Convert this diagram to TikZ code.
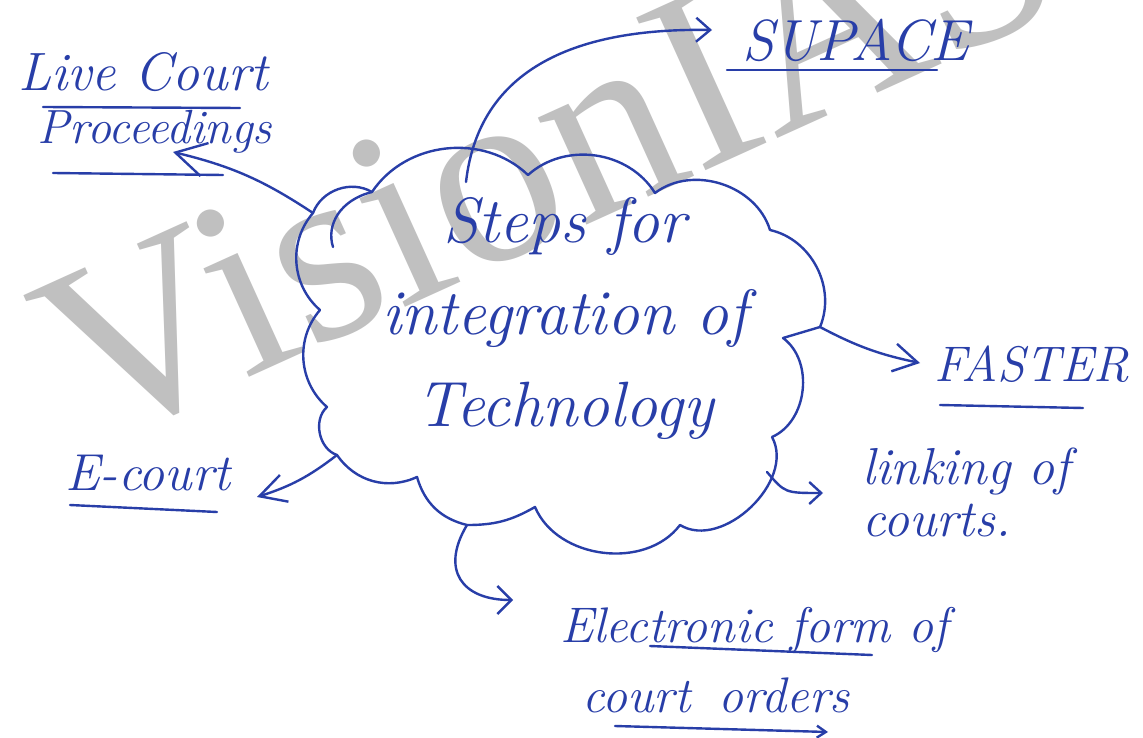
\documentclass[tikz,border=0pt]{standalone}
\usepackage{fontspec}
\newfontfamily\wmfont{Liberation Serif}
\usetikzlibrary{arrows.meta}
\definecolor{ink}{RGB}{40,62,168}
\definecolor{wm}{RGB}{192,192,192}
\begin{document}
\begin{tikzpicture}[x=1pt,y=-1pt,
  line cap=round, line join=round,
  inkline/.style={draw=ink, line width=2.4pt},
  conn/.style={inkline},
  lbl/.style={text=ink, font=\itshape, inner sep=0pt, align=center},
  cloudtext/.style={text=ink, font=\itshape\fontsize{64}{92}\selectfont, align=center, inner sep=0pt},
]
\useasboundingbox (0,0) rectangle (1143,738);
\fill[white] (0,0) rectangle (1143,738);

% watermark (under the ink)
\node[text=wm, font=\wmfont\fontsize{256}{256}\selectfont, inner sep=0pt, anchor=base west, rotate=24.4] (wmark) at (90,450) {VisionIAS};

% cloud cusps
\coordinate (c1) at (313,213);
\coordinate (c2) at (372,192);
\coordinate (c3) at (528,175);
\coordinate (c4) at (655,193);
\coordinate (c5) at (770,230);
\coordinate (c6) at (820,327);
\coordinate (c6b) at (783,338);
\coordinate (c7) at (772,437);
\coordinate (c9) at (680,525);
\coordinate (c10) at (535,507);
\coordinate (c11) at (467,525);
\coordinate (c12) at (417,477);
\coordinate (c13) at (337,455);
\coordinate (c14) at (327,407);
\coordinate (c15) at (320,310);

\draw[inkline] (c1) to[bend left=50] (c2) to[bend left=50] (c3)
  to[bend left=50] (c4) to[bend left=55] (c5) to[bend left=50] (c6)
  -- (c6b) to[bend left=60] (c7)
  to[bend left=75] (c9) to[bend left=60] (c10)
  to[bend left=15] (c11) to[bend left=30] (c12) to[bend left=40] (c13)
  to[bend left=60] (c14) to[bend left=45] (c15) to[bend left=45] (c1);
% inner curl
\draw[inkline] (c2) .. controls (340,200) and (326,225) .. (333,247);

\node[cloudtext] (steps) at (565,318) {Steps for\\integration of\\Technology};

% labels
\node[lbl, font=\itshape\fontsize{54}{54}\selectfont] (live) at (143,72) {Live Court};
\node[lbl, font=\itshape\fontsize{48}{48}\selectfont] (proc) at (155,132) {Proceedings};
\node[lbl, font=\itshape\fontsize{58}{58}\selectfont] (supace) at (856,40) {SUPACE};
\node[lbl, font=\itshape\fontsize{50}{50}\selectfont] (faster) at (1032,364) {FASTER};
\node[lbl, font=\itshape\fontsize{52}{52}\selectfont] (ecourt) at (148,473) {E-court};
\node[lbl, font=\itshape\fontsize{52}{52}\selectfont, align=left, anchor=west] (linking) at (862,492) {linking of\\courts.};
\node[lbl, font=\itshape\fontsize{50}{70}\selectfont, align=left, anchor=west] (electronic) at (560,660) {Electronic form of\\\hspace*{22pt}court\hspace*{28pt}orders};

% underlines
\draw[inkline] (43,107) -- (240,108);
\draw[inkline] (53,173) -- (223,175);
\draw[inkline] (727,70) -- (937,70);
\draw[inkline] (940,405) -- (1083,408);
\draw[inkline] (70,505) -- (217,512);
\draw[inkline] (650,646) -- (872,655);
\coordinate (coTip) at (828,732);
\draw[inkline,-{Straight Barb[length=9pt,width=12pt]}] (615,726) -- (coTip);

% connectors
\coordinate (lpTip) at (173,152);
\coordinate (supStart) at (466,182);
\coordinate (supTip) at (712,30);
\coordinate (faTip) at (920,363);
\coordinate (ecTip) at (257,497);
\coordinate (lkStart) at (767,472);
\coordinate (lkTip) at (823,493);
\coordinate (elTip) at (513,600);

\draw[conn,-{Straight Barb[length=30pt,width=34pt]}] (c1) to[bend right=10] (lpTip);
\draw[conn,-{Straight Barb[length=14pt,width=24pt]}] (supStart) .. controls (480,60) and (590,28) .. (supTip);
\draw[conn,-{Straight Barb[length=24pt,width=28pt]}] (c6) to[bend right=8] (faTip);
\draw[conn,-{Straight Barb[length=26pt,width=28pt]}] (c13) to[bend left=10] (ecTip);
\draw[conn,-{Straight Barb[length=12pt,width=22pt]}] (lkStart) .. controls (785,493) .. (lkTip);
\draw[conn,-{Straight Barb[length=14pt,width=28pt]}] (c11) .. controls (440,570) and (462,600) .. (elTip);
\end{tikzpicture}
\end{document}
